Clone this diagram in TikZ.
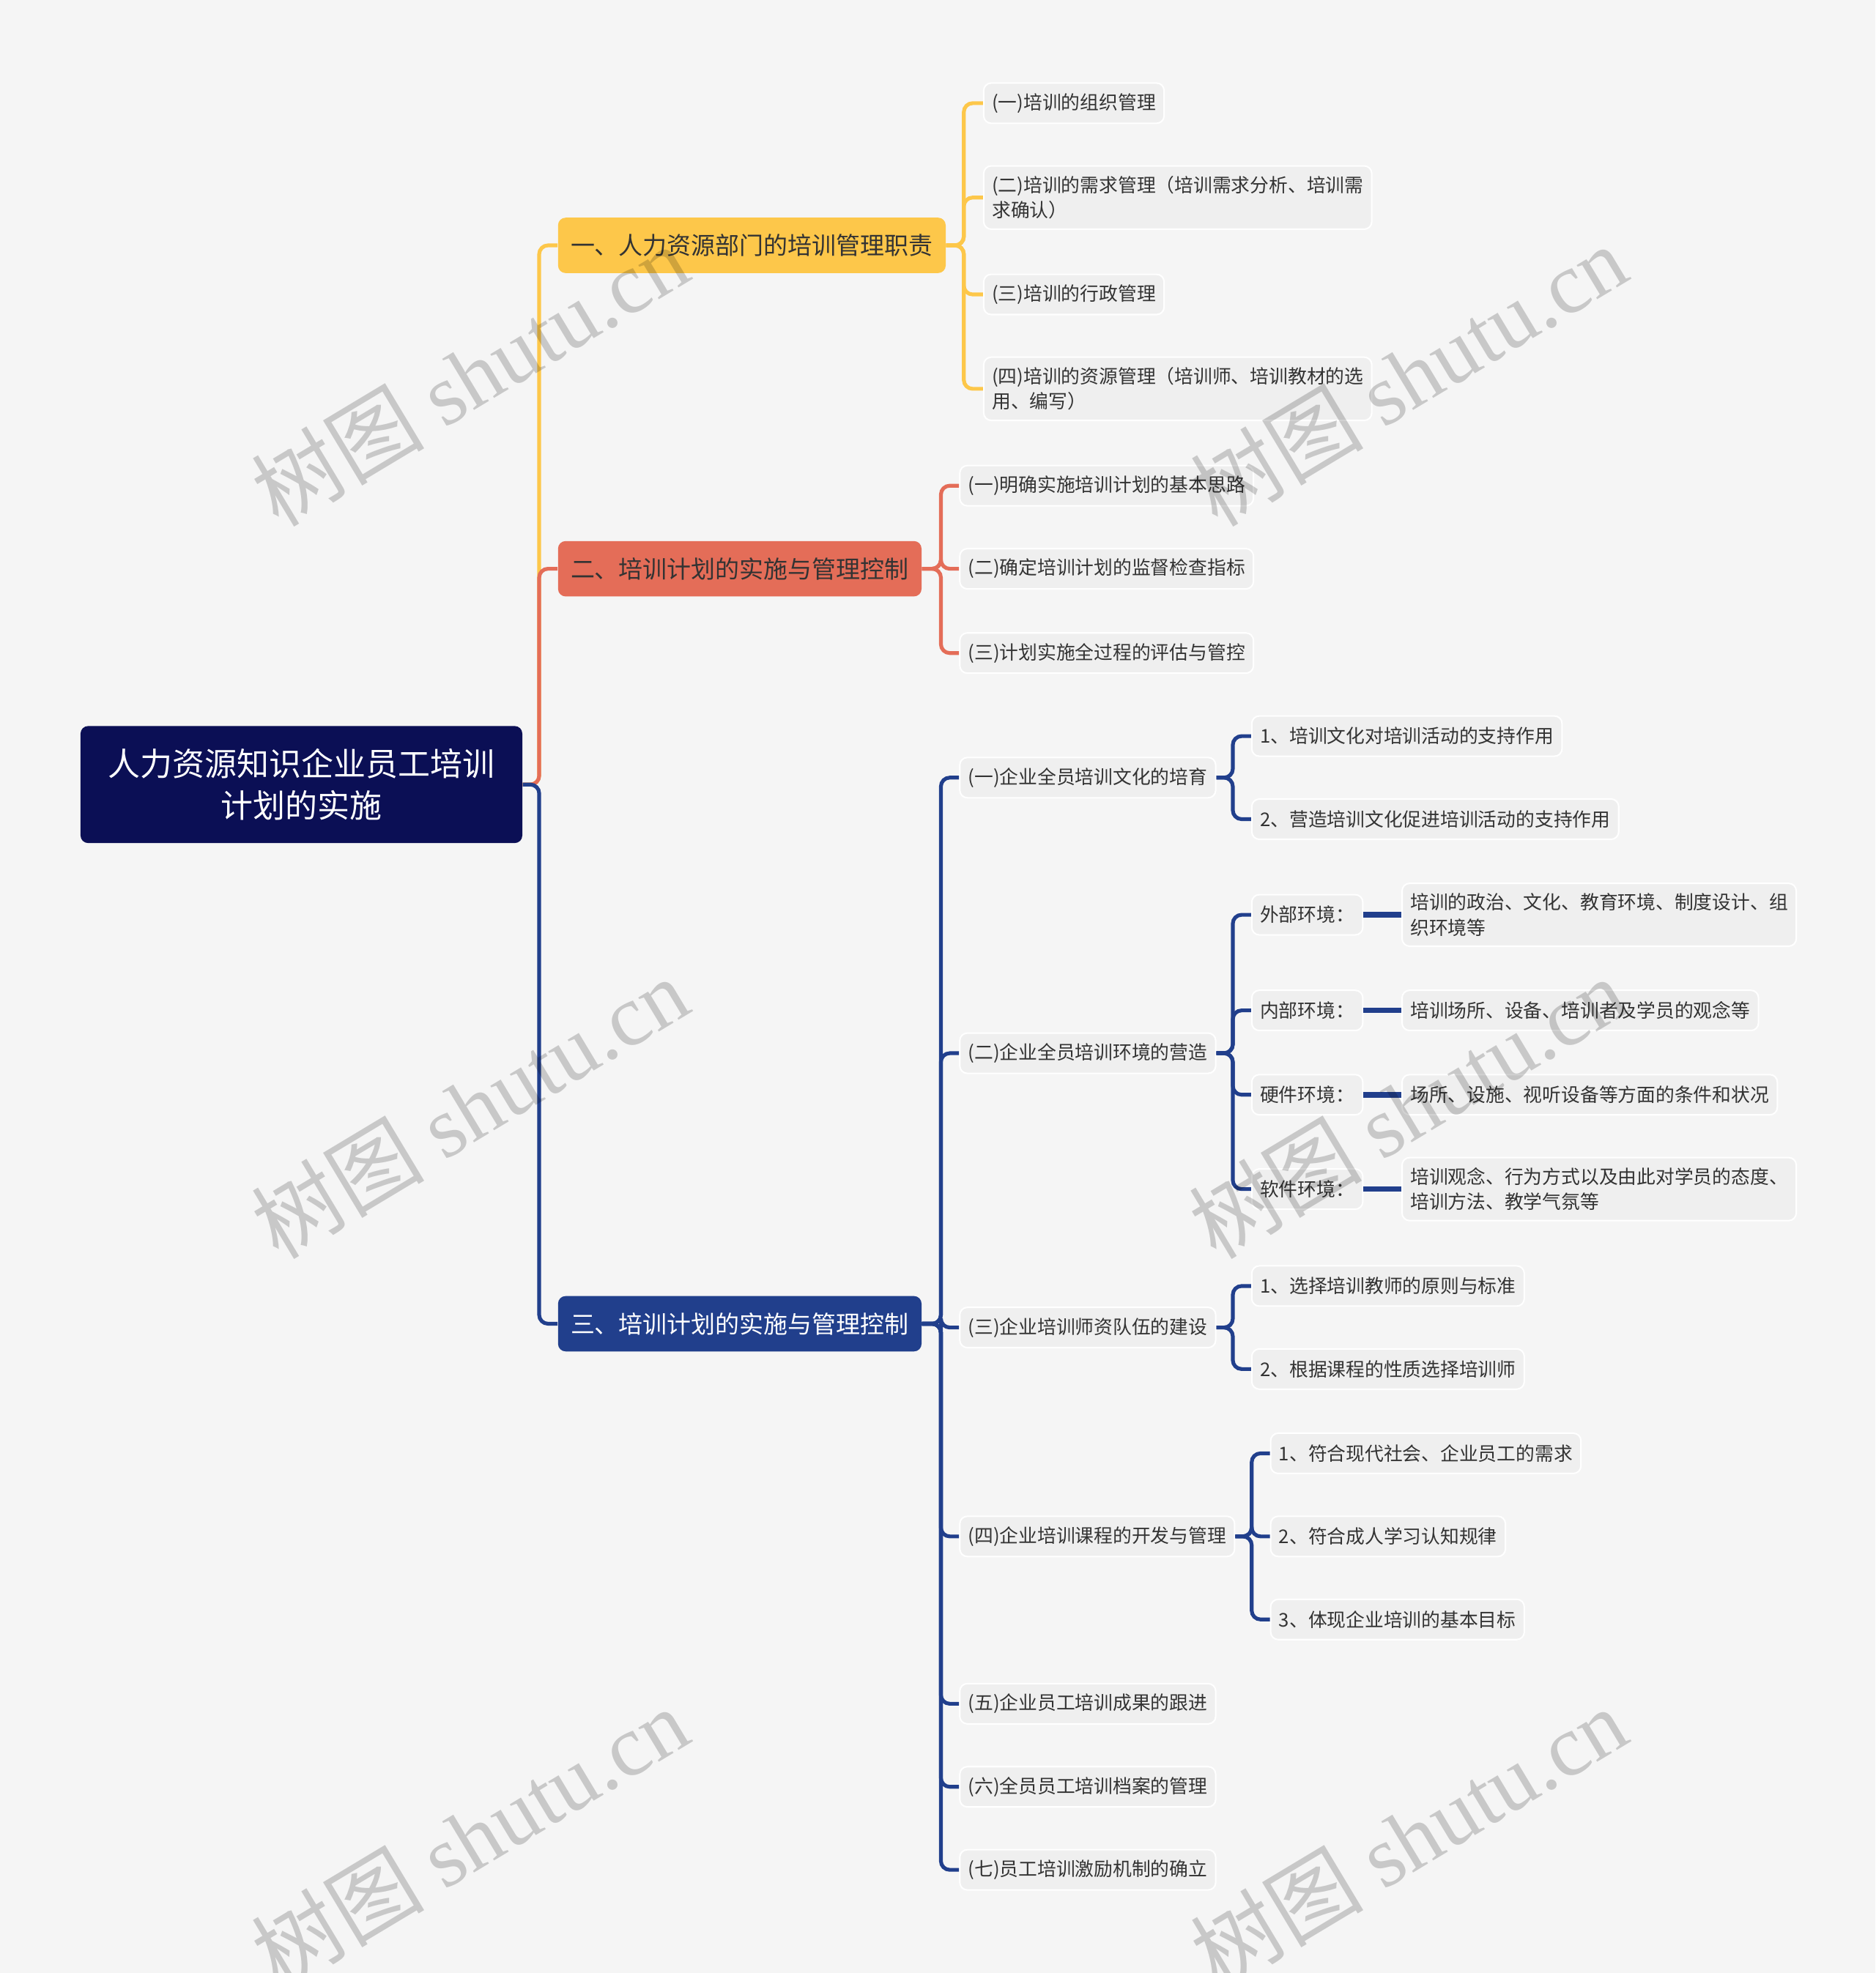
\documentclass[tikz,border=0pt]{standalone}
\usepackage{fontspec}
\setmainfont{Noto Sans CJK SC}
\newfontfamily\wmlatin{Liberation Serif}
\usetikzlibrary{positioning}

\definecolor{bg}{HTML}{F5F5F5}
\definecolor{navy}{HTML}{0B0F55}
\definecolor{gold}{HTML}{FDC74A}
\definecolor{coral}{HTML}{E46D58}
\definecolor{royal}{HTML}{213F8C}
\definecolor{leaf}{HTML}{EFEFEF}
\definecolor{ink}{HTML}{333333}

\begin{document}
\begin{tikzpicture}[
  x=0.5pt, y=-0.5pt,
  leafbox/.style={draw=white, line width=0.6pt, fill=leaf, rounded corners=3pt,
                  anchor=west, align=left, text=ink, inner xsep=3.3pt, inner ysep=4pt,
                  minimum height=16pt, font=\fontsize{7.5}{10}\selectfont},
  topic/.style={rounded corners=3pt, anchor=west, inner xsep=5pt, minimum height=22pt,
                font=\fontsize{9.6}{12}\selectfont},
  wire/.style={line width=1.5pt, rounded corners=3.5pt},
  stub/.style={line width=2.2pt},
  wmark/.style={rotate=31, text=black, text opacity=0.18, font=\fontsize{34.5}{34.5}\selectfont}
]
\useasboundingbox[fill=bg] (0,0) rectangle (1490,1568);

% root and main topics
\node[fill=navy, text=white, rounded corners=3pt, minimum width=175.5pt, minimum height=46.5pt,
      align=center, font=\fontsize{12.8}{16.5}\selectfont] (root) at (239.5,623.5)
  {人力资源知识企业员工培训\\计划的实施};
\node[topic, fill=gold, text=ink] (duty) at (443,195) {一、人力资源部门的培训管理职责};
\node[topic, fill=coral, text=ink] (ctrl) at (443,452) {二、培训计划的实施与管理控制};
\node[topic, fill=royal, text=white] (impl) at (443,1052) {三、培训计划的实施与管理控制};

\draw[wire, gold] (root.east) -- ++(13,0) |- (duty.west);
\draw[wire, coral] (root.east) -- ++(13,0) |- (ctrl.west);
\draw[wire, royal] (root.east) -- ++(13,0) |- (impl.west);

% duty
\node[leafbox] (d1) at (781,82) {(一)培训的组织管理};
\node[leafbox] (d2) at (781,157) {(二)培训的需求管理（培训需求分析、培训需\\求确认）};
\node[leafbox] (d3) at (781,234) {(三)培训的行政管理};
\node[leafbox] (d4) at (781,309) {(四)培训的资源管理（培训师、培训教材的选\\用、编写）};
\foreach \c in {d1,d2,d3,d4}
  \draw[wire, gold] (duty.east) -- ++(14,0) |- (\c.west);

% ctrl
\node[leafbox] (k1) at (762,386) {(一)明确实施培训计划的基本思路};
\node[leafbox] (k2) at (762,452) {(二)确定培训计划的监督检查指标};
\node[leafbox] (k3) at (762,519) {(三)计划实施全过程的评估与管控};
\foreach \c in {k1,k2,k3}
  \draw[wire, coral] (ctrl.east) -- ++(15,0) |- (\c.west);

% impl
\node[leafbox] (s1) at (762,618) {(一)企业全员培训文化的培育};
\node[leafbox] (s2) at (762,837) {(二)企业全员培训环境的营造};
\node[leafbox] (s3) at (762,1055) {(三)企业培训师资队伍的建设};
\node[leafbox] (s4) at (762,1221) {(四)企业培训课程的开发与管理};
\node[leafbox] (s5) at (762,1354) {(五)企业员工培训成果的跟进};
\node[leafbox] (s6) at (762,1420) {(六)全员员工培训档案的管理};
\node[leafbox] (s7) at (762,1486) {(七)员工培训激励机制的确立};
\foreach \c in {s1,s2,s3,s4,s5,s6,s7}
  \draw[wire, royal] (impl.east) -- ++(15,0) |- (\c.west);

% culture
\node[leafbox] (s1a) at (994,585) {1、培训文化对培训活动的支持作用};
\node[leafbox] (s1b) at (994,651) {2、营造培训文化促进培训活动的支持作用};
\foreach \c in {s1a,s1b}
  \draw[wire, royal] (s1.east) -- ++(13,0) |- (\c.west);

% environment
\node[leafbox] (e1) at (994,727) {外部环境：};
\node[leafbox] (e2) at (994,803) {内部环境：};
\node[leafbox] (e3) at (994,870) {硬件环境：};
\node[leafbox] (e4) at (994,945) {软件环境：};
\foreach \c in {e1,e2,e3,e4}
  \draw[wire, royal] (s2.east) -- ++(13,0) |- (\c.west);

\node[leafbox, right=15pt of e1] (e1x) {培训的政治、文化、教育环境、制度设计、组\\织环境等};
\node[leafbox, right=15pt of e2] (e2x) {培训场所、设备、培训者及学员的观念等};
\node[leafbox, right=15pt of e3] (e3x) {场所、设施、视听设备等方面的条件和状况};
\node[leafbox, right=15pt of e4] (e4x) {培训观念、行为方式以及由此对学员的态度、\\培训方法、教学气氛等};
\foreach \a/\b in {e1/e1x,e2/e2x,e3/e3x,e4/e4x}
  \draw[stub, royal] (\a.east) -- (\b.west);

% trainers
\node[leafbox] (s3a) at (994,1022) {1、选择培训教师的原则与标准};
\node[leafbox] (s3b) at (994,1088) {2、根据课程的性质选择培训师};
\foreach \c in {s3a,s3b}
  \draw[wire, royal] (s3.east) -- ++(13,0) |- (\c.west);

% courses
\node[leafbox] (s4a) at (1009,1155) {1、符合现代社会、企业员工的需求};
\node[leafbox] (s4b) at (1009,1221) {2、符合成人学习认知规律};
\node[leafbox] (s4c) at (1009,1287) {3、体现企业培训的基本目标};
\foreach \c in {s4a,s4b,s4c}
  \draw[wire, royal] (s4.east) -- ++(13,0) |- (\c.west);

% watermark
\foreach \wx/\wy [count=\i] in {373/298, 1119/298, 373/880, 1118/880, 373/1460, 1119/1460}
  \node[wmark] (wm\i) at (\wx,\wy) {树图 {\wmlatin shutu.cn}};
\end{tikzpicture}
\end{document}
